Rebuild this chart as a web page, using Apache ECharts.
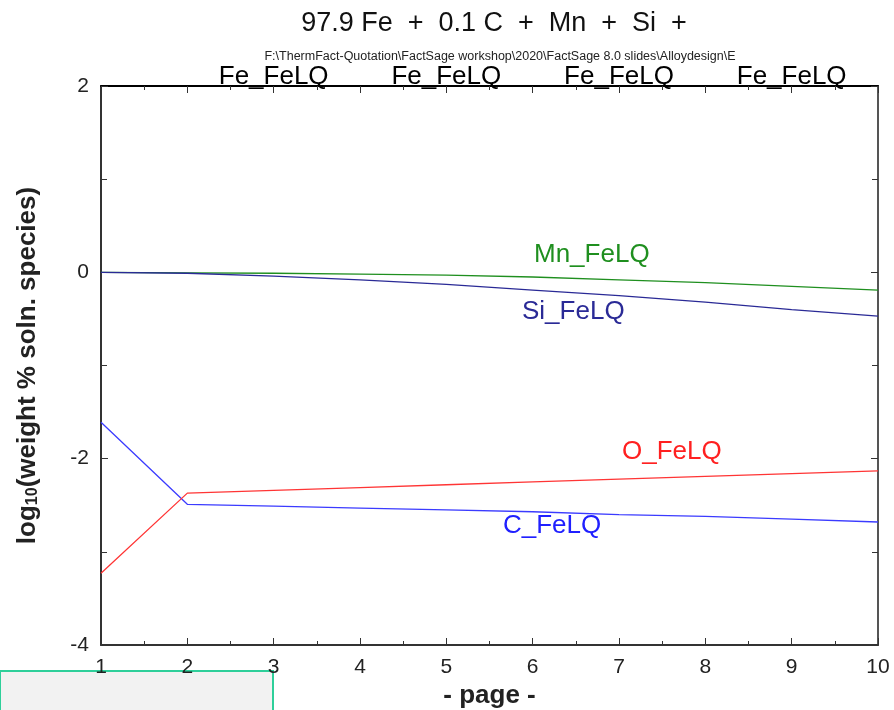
<!DOCTYPE html>
<html>
<head>
<meta charset="utf-8">
<script src="https://cdn.jsdelivr.net/npm/echarts@6/dist/echarts.min.js"></script>
<style>
  html, body { margin: 0; padding: 0; background: #fff; }
  #chart { width: 894px; height: 710px; }
</style>
</head>
<body>
<div id="chart"></div>
<script>
// page numbers on x axis
const pages = [1, 2, 3, 4, 5, 6, 7, 8, 9, 10];
// log10(weight %) per species
const mnVals = [0, -0.005, -0.01, -0.02, -0.03, -0.05, -0.08, -0.11, -0.15, -0.19];
const siVals = [0, -0.01, -0.04, -0.08, -0.13, -0.19, -0.25, -0.32, -0.40, -0.47];
const cVals = [-1.61, -2.49, -2.51, -2.53, -2.55, -2.57, -2.60, -2.62, -2.65, -2.68];
const oVals = [-3.23, -2.37, -2.34, -2.31, -2.28, -2.25, -2.22, -2.19, -2.16, -2.13];
const topLabels = ['Fe_FeLQ', 'Fe_FeLQ', 'Fe_FeLQ', 'Fe_FeLQ'];
const topLabelPages = [3, 5, 7, 9];

const font = 'Liberation Sans, Arial, sans-serif';
const myChart = echarts.init(document.getElementById('chart'));

const pair = arr => pages.map((p, i) => [p, arr[i]]);

const lineSeries = (name, data, color) => ({
    name: name,
    type: 'line',
    data: pair(data),
    symbol: 'none',
    lineStyle: { color: color, width: 1.3 },
    silent: true
});

myChart.setOption({
    animation: false,
    title: [{
        text: '97.9 Fe  +  0.1 C  +  Mn  +  Si  +',
        left: 489, top: 5, textAlign: 'center',
        textStyle: { fontFamily: font, fontSize: 27, fontWeight: 'normal', color: '#111' }
    }, {
        text: 'F:\\ThermFact-Quotation\\FactSage workshop\\2020\\FactSage 8.0 slides\\Alloydesign\\E',
        left: 495, top: 45, textAlign: 'center',
        textStyle: { fontFamily: font, fontSize: 12.5, fontWeight: 'normal', color: '#222' }
    }],
    grid: { left: 101, right: 16, top: 86, bottom: 65, containLabel: false, outerBoundsMode: 'none' },
    xAxis: [{
        type: 'value', min: 1, max: 10, interval: 1,
        name: '- page -', nameLocation: 'middle', nameGap: 34,
        nameTextStyle: { fontFamily: font, fontSize: 26, fontWeight: 'bold', color: '#222' },
        axisLine: { onZero: false, lineStyle: { color: '#333', width: 2 } },
        axisTick: { inside: true, length: 7, lineStyle: { color: '#333' } },
        minorTick: { show: true, splitNumber: 2, length: 4, lineStyle: { color: '#333' } },
        axisLabel: { fontFamily: font, fontSize: 21, color: '#222', margin: 12 },
        splitLine: { show: false }
    }, {
        type: 'value', min: 1, max: 10, interval: 1, position: 'top',
        axisLine: { onZero: false, lineStyle: { color: '#000', width: 2 } },
        axisTick: { inside: true, length: 7, lineStyle: { color: '#333' } },
        minorTick: { show: true, splitNumber: 2, length: 4, lineStyle: { color: '#333' } },
        axisLabel: { show: false },
        splitLine: { show: false }
    }],
    yAxis: [{
        type: 'value', min: -4, max: 2, interval: 2,
        name: '{a|log}{s|10}{a|(weight % soln. species)}',
        nameLocation: 'middle', nameGap: 60, nameRotate: 90,
        nameTextStyle: {
            rich: {
                a: { fontFamily: font, fontSize: 26, fontWeight: 'bold', color: '#222' },
                s: { fontFamily: font, fontSize: 16, fontWeight: 'bold', color: '#222', verticalAlign: 'bottom', padding: [10, 0, 0, 0] }
            }
        },
        axisLine: { onZero: false, lineStyle: { color: '#333', width: 2 } },
        axisTick: { inside: true, length: 7, lineStyle: { color: '#333' } },
        minorTick: { show: true, splitNumber: 2, length: 6, lineStyle: { color: '#333' } },
        axisLabel: { fontFamily: font, fontSize: 21, color: '#222', margin: 12 },
        splitLine: { show: false }
    }, {
        type: 'value', min: -4, max: 2, interval: 2, position: 'right',
        axisLine: { onZero: false, lineStyle: { color: '#555', width: 2 } },
        axisTick: { inside: true, length: 7, lineStyle: { color: '#333' } },
        minorTick: { show: true, splitNumber: 2, length: 6, lineStyle: { color: '#333' } },
        axisLabel: { show: false },
        splitLine: { show: false }
    }],
    series: [
        lineSeries('Mn_FeLQ', mnVals, '#1f8f1f'),
        lineSeries('Si_FeLQ', siVals, '#2a2a96'),
        lineSeries('C_FeLQ', cVals, '#3b3bff'),
        lineSeries('O_FeLQ', oVals, '#ff3535'),
        {
            // Fe_FeLQ labels sitting on top axis
            type: 'scatter',
            data: topLabelPages.map(p => [p, 2]),
            symbolSize: 0,
            silent: true,
            z: 1,
            itemStyle: { opacity: 1 },
            label: {
                show: true,
                formatter: p => topLabels[p.dataIndex],
                position: 'inside',
                offset: [0, -9],
                fontFamily: font, fontSize: 26, color: '#000',
                textBorderWidth: 0
            }
        }
    ],
    graphic: [
        { type: 'text', left: 534, top: 242, style: { text: 'Mn_FeLQ', font: '26px ' + font, fill: '#1f8f1f' } },
        { type: 'text', left: 522, top: 299, style: { text: 'Si_FeLQ', font: '26px ' + font, fill: '#2a2a96' } },
        { type: 'text', left: 622, top: 439, style: { text: 'O_FeLQ', font: '26px ' + font, fill: '#ff2020' } },
        { type: 'text', left: 503, top: 513, style: { text: 'C_FeLQ', font: '26px ' + font, fill: '#2020ff' } },
        { type: 'rect', shape: { x: 0, y: 671, width: 273, height: 45 },
          style: { fill: '#f2f2f2', stroke: '#2ecf9a', lineWidth: 2 } }
    ]
});
</script>
</body>
</html>
